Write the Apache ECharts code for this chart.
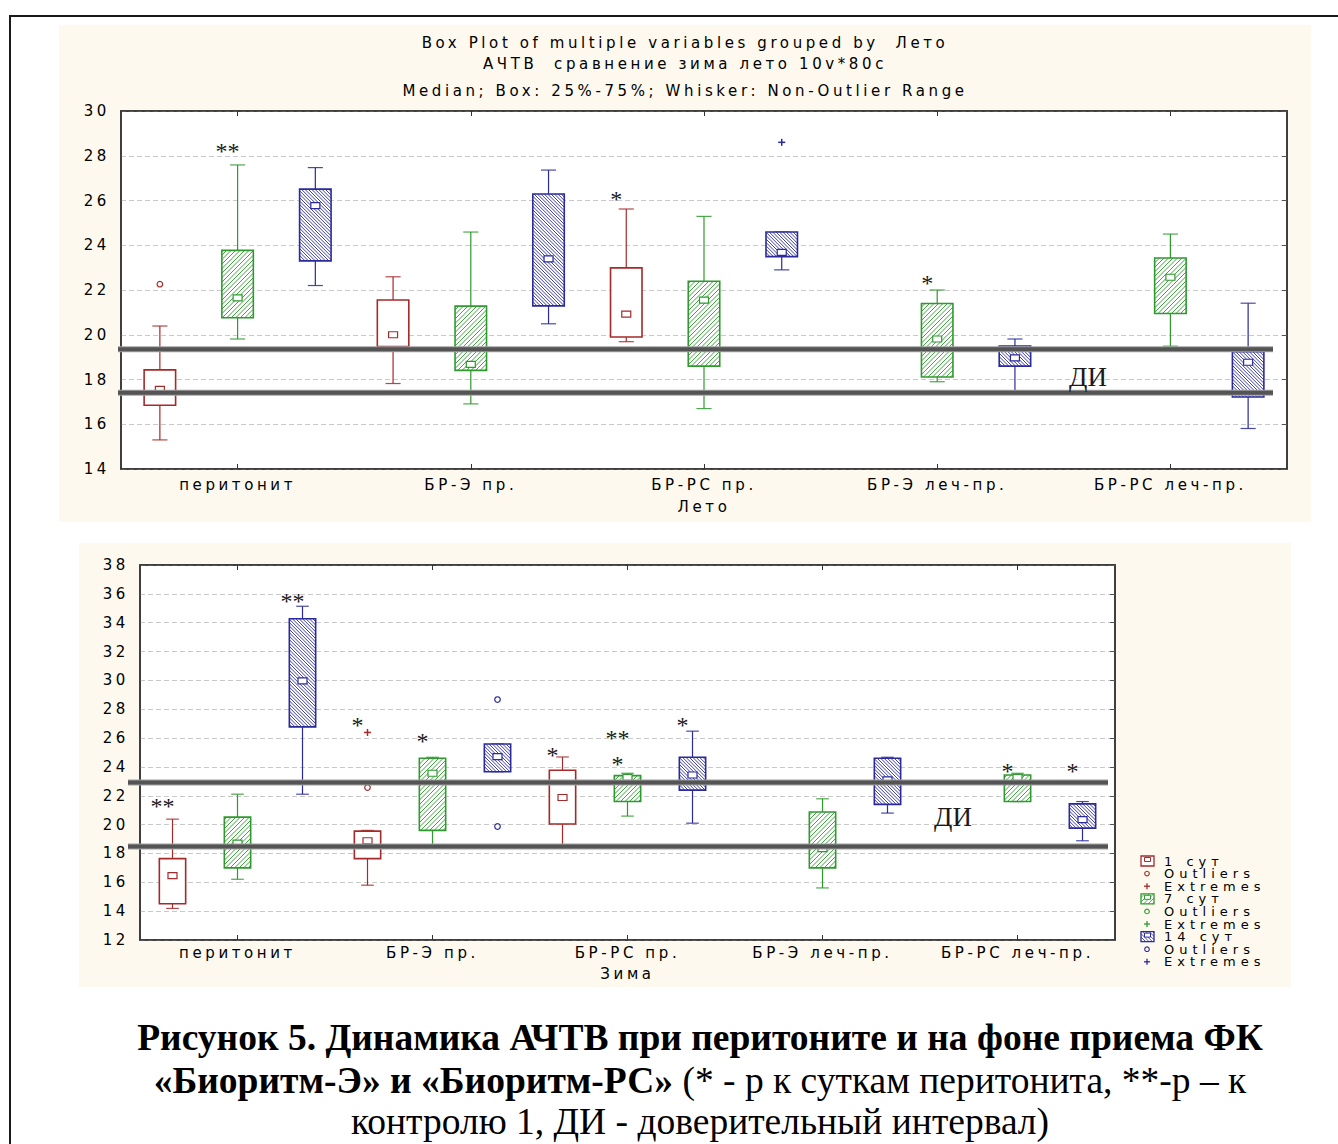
<!DOCTYPE html>
<html><head><meta charset="utf-8">
<script src="https://cdn.jsdelivr.net/npm/echarts@6/dist/echarts.min.js"></script>
<style>
html,body{margin:0;padding:0;background:#fff;}
#c{width:1338px;height:1144px;}
#c text[style*="DejaVu"]{letter-spacing:3.6px;}
#c text[style*="13px"][style*="DejaVu"]{letter-spacing:5px;}
</style></head><body><div id="c"></div>
<script>
// ---------------- DATA ----------------
const categories = ['перитонит', 'БР-Э пр.', 'БР-РС пр.', 'БР-Э леч-пр.', 'БР-РС леч-пр.'];
const groups = ['1 сут', '7 сут', '14 сут'];
// each entry: [min, Q1, median, Q3, max] (non-outlier range), null = no data
const summer1  = [[15.3, 16.85, 17.56, 18.43, 20.39], [17.82, 19.47, 20.0, 21.55, 22.59], [19.69, 19.9, 20.92, 22.99, 25.62], null, null];
const summer7  = [[19.81, 20.76, 21.65, 23.77, 27.59], [16.91, 18.41, 18.68, 21.28, 24.59], [16.7, 18.6, 21.55, 22.39, 25.29], [17.9, 18.11, 19.81, 21.4, 22.0], [19.49, 20.95, 22.57, 23.43, 24.5]];
const summer14 = [[22.2, 23.3, 25.77, 26.51, 27.47], [20.49, 21.29, 23.39, 26.29, 27.36], [22.9, 23.49, 23.68, 24.59, 24.59], [17.5, 18.6, 18.97, 19.5, 19.81], [15.81, 17.22, 18.77, 19.24, 21.41]];
const winter1  = [[14.19, 14.51, 16.47, 17.64, 20.38], [15.8, 17.64, 18.88, 19.55, 19.6], [18.6, 20.04, 21.88, 23.77, 24.69], null, null];
const winter7  = [[16.21, 17.0, 18.72, 20.52, 22.11], [18.6, 19.6, 23.56, 24.6, 24.67], [20.59, 21.6, 23.28, 23.4, 23.56], [15.61, 17.0, 18.33, 20.87, 21.79], [21.6, 21.6, 23.28, 23.44, 23.56]];
const winter14 = [[22.11, 26.78, 29.96, 34.27, 35.14], [23.67, 23.67, 24.71, 25.59, 25.59], [20.1, 22.39, 23.44, 24.67, 26.48], [20.8, 21.4, 23.1, 24.6, 24.67], [18.88, 19.76, 20.34, 21.44, 21.6]];
// [category index, group index, value]
const summerOutliers = [[0, 0, 22.26]];
const summerExtremes = [[2, 2, 28.6]];
const winterOutliers = [[1, 0, 22.57], [1, 2, 28.67], [1, 2, 19.87]];
const winterExtremes = [[1, 0, 26.39]];
// significance marks: [category index, group index, value, text]
const summerMarks = [[0, 1, 28.4, '**'], [2, 0, 26.25, '*'], [3, 1, 22.5, '*']];
const winterMarks = [[0, 0, 21.6, '**'], [0, 2, 35.8, '**'], [1, 0, 27.15, '*'], [1, 1, 26.1, '*'], [2, 0, 25.1, '*'], [2, 1, 26.3, '**'], [2, 1, 24.5, '*'], [2, 2, 27.15, '*'], [4, 1, 24.0, '*'], [4, 2, 24.0, '*']];
// confidence interval (ДИ) bounds
const summerCI = [17.41, 19.35];
const winterCI = [18.49, 22.92];
const summerTicks = {min: 14, max: 30, interval: 2};
const winterTicks = {min: 12, max: 38, interval: 2};
const titleLines = ['Box Plot of multiple variables grouped by  Лето', 'АЧТВ  сравнение зима лето 10v*80c', 'Median; Box: 25%-75%; Whisker: Non-Outlier Range'];
const legendSub = ['Outliers', 'Extremes'];

// ---------------- STYLE ----------------
const FONT = 'DejaVu Sans';
const SERIF = 'Liberation Serif';
const COLORS = ['#a52a2a', '#2e9a2e', '#2a2a9c'];
const HATCH = [null, {step: 4.5, dir: 1, w: 0.9}, {step: 3.4, dir: -1, w: 0.9}];

function hatchSegs(x0, y0, x1, y1, step, dir) {
  const s = [];
  if (dir > 0) {
    const ks = Math.ceil((x0 + y0) / step) * step;
    for (let k = ks; k <= x1 + y1; k += step) {
      const xa = Math.max(x0, k - y1), xb = Math.min(x1, k - y0);
      if (xa < xb) s.push([xa, k - xa, xb, k - xb]);
    }
  } else {
    const ks = Math.ceil((x0 - y1) / step) * step;
    for (let k = ks; k <= x1 - y0; k += step) {
      const xa = Math.max(x0, k + y0), xb = Math.min(x1, k + y1);
      if (xa < xb) s.push([xa, xa - k, xb, xb - k]);
    }
  }
  return s;
}
function hatchPath(x0, y0, x1, y1, step, dir) {
  return hatchSegs(x0, y0, x1, y1, step, dir).map(p => 'M' + p[0] + ' ' + p[1] + 'L' + p[2] + ' ' + p[3]).join('');
}

function boxRender(g) {
  return function (params, api) {
    const cat = api.value(0);
    const band = api.size([1, 0])[0];
    const cx = api.coord([cat, 0])[0] + (g - 1) * band / 3;
    const y = [1, 2, 3, 4, 5].map(i => api.coord([cat, api.value(i)])[1]);
    const bw = band * 0.135, hw = bw / 2, cap = bw * 0.24;
    const col = COLORS[g];
    const ch = [];
    ch.push({type: 'line', shape: {x1: cx, y1: y[0], x2: cx, y2: y[1]}, style: {stroke: col, lineWidth: 1.2}});
    ch.push({type: 'line', shape: {x1: cx, y1: y[3], x2: cx, y2: y[4]}, style: {stroke: col, lineWidth: 1.2}});
    ch.push({type: 'line', shape: {x1: cx - cap, y1: y[0], x2: cx + cap, y2: y[0]}, style: {stroke: col, lineWidth: 1.2, opacity: 0.85}});
    ch.push({type: 'line', shape: {x1: cx - cap, y1: y[4], x2: cx + cap, y2: y[4]}, style: {stroke: col, lineWidth: 1.2, opacity: 0.85}});
    const bx0 = cx - hw, bx1 = cx + hw, by0 = y[3], by1 = y[1];
    ch.push({type: 'rect', shape: {x: bx0, y: by0, width: bw, height: by1 - by0}, style: {fill: '#fff'}});
    const h = HATCH[g];
    if (h) {
      const d = hatchPath(bx0, by0, bx1, by1, h.step, h.dir);
      if (d) ch.push({type: 'path', shape: {pathData: d}, style: {stroke: col, lineWidth: h.w, fill: null}});
    }
    ch.push({type: 'rect', shape: {x: bx0, y: by0, width: bw, height: by1 - by0}, style: {fill: null, stroke: col, lineWidth: 1.6}});
    ch.push({type: 'rect', shape: {x: cx - 4.5, y: y[2] - 3, width: 9, height: 6}, style: {fill: '#fff', stroke: col, lineWidth: 1.2}});
    return {type: 'group', children: ch};
  };
}

function pointRender(list, kind) {
  return function (params, api) {
    const it = list[params.dataIndex];
    const band = api.size([1, 0])[0];
    const p = api.coord([it[0], it[2]]);
    const cx = p[0] + (it[1] - 1) * band / 3, cy = p[1];
    const col = COLORS[it[1]];
    if (kind === 0) {
      return {type: 'circle', shape: {cx: cx, cy: cy, r: 2.8}, style: {fill: null, stroke: col, lineWidth: 1.2}};
    }
    return {type: 'group', children: [
      {type: 'line', shape: {x1: cx - 3.5, y1: cy, x2: cx + 3.5, y2: cy}, style: {stroke: col, lineWidth: 1.5}},
      {type: 'line', shape: {x1: cx, y1: cy - 3.5, x2: cx, y2: cy + 3.5}, style: {stroke: col, lineWidth: 1.5}}
    ]};
  };
}

function markRender(list) {
  return function (params, api) {
    const it = list[params.dataIndex];
    const band = api.size([1, 0])[0];
    const p = api.coord([it[0], it[2]]);
    const cx = p[0] + (it[1] - 1) * band / 3 - 10;
    return {type: 'text', x: cx, y: p[1] + 4, style: {text: it[3], font: '24px ' + SERIF, fill: '#1a1a1a', align: 'center', verticalAlign: 'middle'}};
  };
}

function ciRender(dxL, dxR) {
  return function (params, api) {
    const cs = params.coordSys;
    const yy = api.coord([0, api.value(1)])[1];
    const x1 = cs.x - dxL, x2 = cs.x + cs.width - dxR;
    return {type: 'group', children: [
      {type: 'line', shape: {x1: x1, y1: yy, x2: x2, y2: yy}, style: {stroke: '#a0a0a0', lineWidth: 6}},
      {type: 'line', shape: {x1: x1, y1: yy, x2: x2, y2: yy}, style: {stroke: '#545454', lineWidth: 4}}
    ]};
  };
}

function boxData(arr) {
  const out = [];
  arr.forEach((v, i) => { if (v) out.push([i].concat(v)); });
  return out;
}

const labelStyle = {color: '#000', fontFamily: FONT, fontSize: 15};

function makeAxes(gi, ticks, name, nameGap, lblMargin) {
  const xs = [
    {gridIndex: gi, type: 'category', data: categories, boundaryGap: true, position: 'bottom',
      axisLine: {show: true, lineStyle: {color: '#333', width: 1.5}},
      axisTick: {show: true, inside: true, alignWithLabel: true, length: 5, lineStyle: {color: '#333'}},
      axisLabel: Object.assign({interval: 0, margin: lblMargin}, labelStyle),
      splitLine: {show: false},
      name: name, nameLocation: 'middle', nameGap: nameGap, nameTextStyle: labelStyle},
    {gridIndex: gi, type: 'category', data: categories, boundaryGap: true, position: 'top',
      axisLine: {show: true, lineStyle: {color: '#333', width: 1.5}},
      axisTick: {show: true, inside: true, alignWithLabel: true, length: 5, lineStyle: {color: '#333'}},
      axisLabel: {show: false}, splitLine: {show: false}}
  ];
  const ys = [
    {gridIndex: gi, type: 'value', min: ticks.min, max: ticks.max, interval: ticks.interval, position: 'left',
      axisLine: {show: true, lineStyle: {color: '#333', width: 1.5}}, axisTick: {show: false},
      axisLabel: Object.assign({margin: 11}, labelStyle),
      splitLine: {show: true, lineStyle: {color: '#c9c9c9', type: [5, 3], width: 1}}},
    {gridIndex: gi, type: 'value', min: ticks.min, max: ticks.max, interval: ticks.interval, position: 'right',
      axisLine: {show: true, lineStyle: {color: '#333', width: 1.5}},
      axisTick: {show: true, inside: true, length: 5, lineStyle: {color: '#555'}},
      axisLabel: {show: false}, splitLine: {show: false}}
  ];
  return {xs, ys};
}

const a0 = makeAxes(0, summerTicks, 'Лето', 30, 8);
const a1 = makeAxes(1, winterTicks, 'Зима', 26, 5);

const series = [];
function addChart(xi, yi, sets, outl, extr, marks, ci, ciDx) {
  sets.forEach((arr, g) => {
    series.push({type: 'custom', name: groups[g], xAxisIndex: xi, yAxisIndex: yi, renderItem: boxRender(g),
      data: boxData(arr), encode: {x: 0, y: [1, 2, 3, 4, 5]}, z: 3, silent: true});
  });
  series.push({type: 'custom', xAxisIndex: xi, yAxisIndex: yi, renderItem: pointRender(outl, 0),
    data: outl.map(o => [o[0], o[2]]), encode: {x: 0, y: 1}, z: 3, silent: true});
  series.push({type: 'custom', xAxisIndex: xi, yAxisIndex: yi, renderItem: pointRender(extr, 1),
    data: extr.map(o => [o[0], o[2]]), encode: {x: 0, y: 1}, z: 3, silent: true});
  series.push({type: 'custom', xAxisIndex: xi, yAxisIndex: yi, renderItem: ciRender(ciDx[0], ciDx[1]),
    data: ci.map(v => [0, v]), encode: {x: 0, y: 1}, z: 5, silent: true});
  series.push({type: 'custom', xAxisIndex: xi, yAxisIndex: yi, renderItem: markRender(marks),
    data: marks.map(m => [m[0], m[2]]), encode: {x: 0, y: 1}, z: 6, silent: true});
}
addChart(0, 0, [summer1, summer7, summer14], summerOutliers, summerExtremes, summerMarks, summerCI, [3, 14]);
addChart(2, 2, [winter1, winter7, winter14], winterOutliers, winterExtremes, winterMarks, winterCI, [12, 7]);

// ---------------- GRAPHICS (frame, panels, titles, legend, caption) ----------------
const gfx = [];
gfx.push({type: 'rect', z: -10, shape: {x: 59, y: 25, width: 1252, height: 497}, style: {fill: '#fdf9ee'}});
gfx.push({type: 'rect', z: -10, shape: {x: 79, y: 543, width: 1212, height: 444}, style: {fill: '#fdf9ee'}});
gfx.push({type: 'polyline', z: 10, shape: {points: [[10, 1150], [10, 16], [1345, 16]]}, style: {stroke: '#1a1a1a', lineWidth: 2, fill: null}});
const titleY = [43, 64, 91];
titleLines.forEach((t, i) => gfx.push({type: 'text', x: 685, y: titleY[i], style: {text: t, font: '15px ' + FONT, fill: '#000', align: 'center', verticalAlign: 'middle'}}));
gfx.push({type: 'text', x: 1088, y: 377, z: 10, style: {text: 'ДИ', font: '27px ' + SERIF, fill: '#1a1a1a', align: 'center', verticalAlign: 'middle'}});
gfx.push({type: 'text', x: 953, y: 817, z: 10, style: {text: 'ДИ', font: '27px ' + SERIF, fill: '#1a1a1a', align: 'center', verticalAlign: 'middle'}});
// legend
groups.forEach((gName, g) => {
  const y0 = 861 + g * 37.8, col = COLORS[g];
  const ix = 1141, iw = 13, ih = 10;
  gfx.push({type: 'rect', shape: {x: ix, y: y0 - ih / 2, width: iw, height: ih}, style: {fill: '#fff', stroke: col, lineWidth: 1.3}});
  if (HATCH[g]) {
    hatchSegs(ix, y0 - ih / 2, ix + iw, y0 + ih / 2, HATCH[g].step, HATCH[g].dir).forEach(sg => {
      gfx.push({type: 'line', shape: {x1: sg[0], y1: sg[1], x2: sg[2], y2: sg[3]}, style: {stroke: col, lineWidth: 0.8}});
    });
  }
  gfx.push({type: 'rect', shape: {x: ix + 3.5, y: y0 - 3.5, width: 6, height: 4}, style: {fill: '#fff', stroke: col, lineWidth: 1}});
  gfx.push({type: 'text', x: 1164, y: y0, style: {text: gName, font: '13px ' + FONT, fill: '#000', verticalAlign: 'middle'}});
  gfx.push({type: 'circle', shape: {cx: 1147, cy: y0 + 12.6, r: 2.3}, style: {fill: null, stroke: col, lineWidth: 1.1}});
  gfx.push({type: 'text', x: 1164, y: y0 + 12.6, style: {text: legendSub[0], font: '13px ' + FONT, fill: '#000', verticalAlign: 'middle'}});
  gfx.push({type: 'line', shape: {x1: 1144, y1: y0 + 25.2, x2: 1150, y2: y0 + 25.2}, style: {stroke: col, lineWidth: 1.3}});
  gfx.push({type: 'line', shape: {x1: 1147, y1: y0 + 22.2, x2: 1147, y2: y0 + 28.2}, style: {stroke: col, lineWidth: 1.3}});
  gfx.push({type: 'text', x: 1164, y: y0 + 25.2, style: {text: legendSub[1], font: '13px ' + FONT, fill: '#000', verticalAlign: 'middle'}});
});
// caption
const CAP = 37.5;
gfx.push({type: 'text', x: 700, y: 1037, style: {text: 'Рисунок 5. Динамика АЧТВ при перитоните и на фоне приема ФК', font: 'bold ' + CAP + 'px ' + SERIF, fill: '#000', align: 'center', verticalAlign: 'middle'}});
gfx.push({type: 'text', x: 700, y: 1080, style: {text: '{b|«Биоритм-Э» и «Биоритм-РС»}{n| (* - р к суткам перитонита, **-р – к}', align: 'center', verticalAlign: 'middle', fill: '#000',
  rich: {b: {fontFamily: SERIF, fontSize: CAP, fontWeight: 'bold', fill: '#000'}, n: {fontFamily: SERIF, fontSize: CAP, fontWeight: 'normal', fill: '#000'}}}});
gfx.push({type: 'text', x: 700, y: 1121, style: {text: 'контролю 1, ДИ - доверительный интервал)', font: CAP + 'px ' + SERIF, fill: '#000', align: 'center', verticalAlign: 'middle'}});

const chart = echarts.init(document.getElementById('c'), null, {renderer: 'svg'});
chart.setOption({
  animation: false,
  backgroundColor: '#fff',
  grid: [
    {left: 121, top: 111, width: 1166, height: 358, show: true, backgroundColor: '#fff', borderColor: '#333', borderWidth: 1.5, outerBoundsMode: 'none', containLabel: false},
    {left: 140, top: 565, width: 975, height: 375, show: true, backgroundColor: '#fff', borderColor: '#333', borderWidth: 1.5, outerBoundsMode: 'none', containLabel: false}
  ],
  xAxis: a0.xs.concat(a1.xs),
  yAxis: a0.ys.concat(a1.ys),
  series: series,
  graphic: {elements: gfx}
});
</script></body></html>
